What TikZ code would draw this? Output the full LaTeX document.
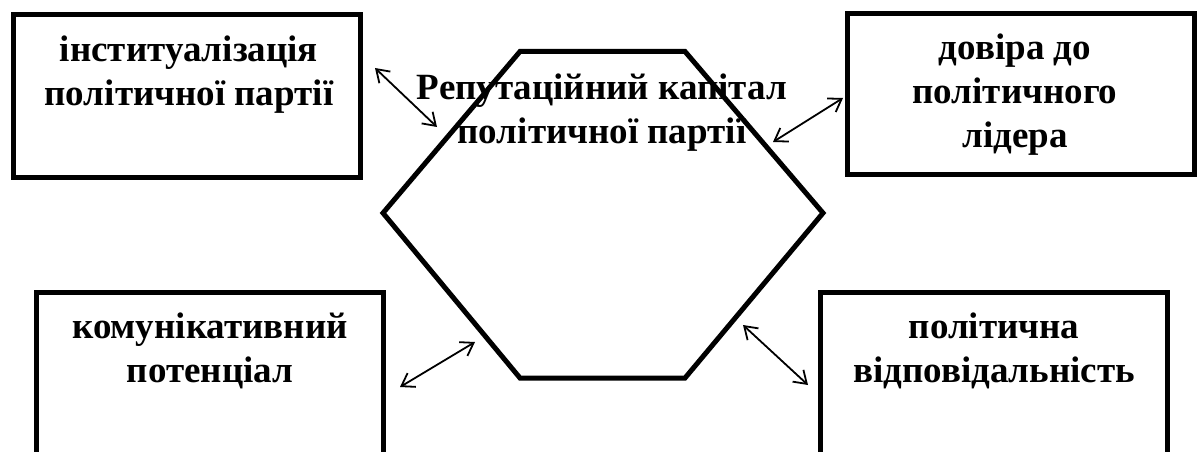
\documentclass[tikz,border=0pt]{standalone}
\usepackage{fontspec}
\setmainfont{Liberation Serif}
\usetikzlibrary{arrows.meta}
\begin{document}
\begin{tikzpicture}[x=1pt,y=-1pt,
  box/.style={draw, line width=5pt, minimum width=347pt, inner sep=0pt, outer sep=0pt},
  lbl/.style={font=\fontsize{37}{44}\selectfont\bfseries, align=center, inner sep=0pt, anchor=base},
  link/.style={{Straight Barb[length=12pt,width=16pt]}-{Straight Barb[length=12pt,width=16pt]}, line width=1.8pt},
  hexline/.style={draw, line width=5pt, line join=miter}]
\useasboundingbox (0,0) rectangle (1202,452);
\clip (0,0) rectangle (1202,452);
% boxes
\node[box, minimum height=162pt] (inst) at (187,96) {};
\node[box, minimum height=160pt] (trust) at (1020.5,94) {};
\node[box, minimum height=180pt] (comm) at (210,382.5) {};
\node[box, minimum height=180pt] (resp) at (994,382.5) {};
% hexagon
\coordinate (h1) at (520,51.5);
\coordinate (h2) at (685,51.5);
\coordinate (h3) at (823,213);
\coordinate (h4) at (685,378);
\coordinate (h5) at (520,378);
\coordinate (h6) at (383,213);
\path[hexline] (h1) -- (h2) -- (h3) -- (h4) -- (h5) -- (h6) -- cycle;
% labels (base anchor = baseline of last line)
\node[lbl] (tinst) at (189,106) {інституалізація\\політичної партії};
\node[lbl] (ttrust) at (1015,147) {довіра до\\політичного\\лідера};
\node[lbl] (tcomm) at (210,382) {комунікативний\\потенціал};
\node[lbl] (tresp) at (994,382) {політична\\відповідальність};
\node[lbl] (tcap) at (602,143) {Репутаційний капітал\\політичної партії};
% connectors
\coordinate (a1s) at (375,68);
\coordinate (a1e) at (437,127);
\coordinate (a2s) at (843,98);
\coordinate (a2e) at (773,142);
\coordinate (a3s) at (400,387);
\coordinate (a3e) at (475,342);
\coordinate (a4s) at (743,325);
\coordinate (a4e) at (808,385);
\draw[link] (a1s) -- (a1e);
\draw[link] (a2s) -- (a2e);
\draw[link] (a3s) -- (a3e);
\draw[link] (a4s) -- (a4e);
\end{tikzpicture}
\end{document}
